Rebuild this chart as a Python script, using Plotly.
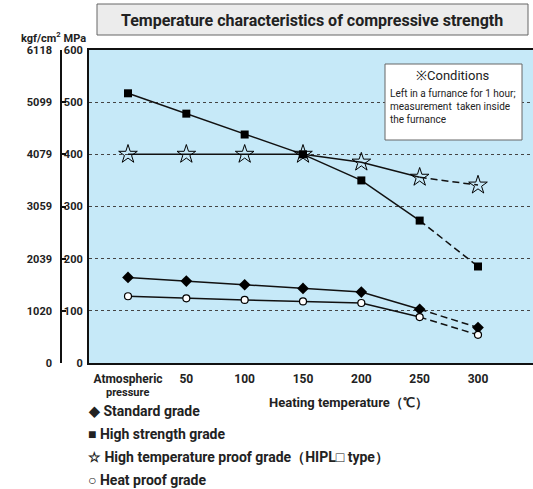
import plotly.graph_objects as go

# ---------------- data ----------------
categories = ["Atmospheric", "50", "100", "150", "200", "250", "300"]
first_category_second_line = "pressure"
standard = [164, 157, 150, 143, 136, 103, 68]
high_strength = [517, 478, 438, 400, 350, 273, 185]
high_temp = [400, 400, 400, 400, 385, 356, 341]
heat_proof = [128, 124, 121, 118, 115, 88, 54]
mpa_ticks = [0, 100, 200, 300, 400, 500, 600]
kgf_ticks = ["0", "1020", "2039", "3059", "4079", "5099", "6118"]
legend_labels = ["◆ Standard grade", "■ High strength grade",
                 "☆ High temperature proof grade（HIPL□ type）", "○ Heat proof grade"]

# ---------------- geometry helpers ----------------
W, H = 533, 489
L, R, T, B = 20, 0, 50, 126
PW, PH = W - L - R, H - T - B


def px(x):
    return (x - L) / PW


def py(y):
    return (H - B - y) / PH


FONT = "Roboto, Liberation Sans, sans-serif"
xs = list(range(len(categories)))

fig = go.Figure()

series = [
    (standard, dict(symbol="diamond", size=9, color="black")),
    (high_strength, dict(symbol="square", size=8, color="black")),
    (high_temp, dict(symbol="star-open", size=14, color="black", line=dict(width=1, color="black"))),
    (heat_proof, dict(symbol="circle", size=7, color="white", line=dict(width=1.2, color="black"))),
]

for vals, mk in series:
    fig.add_trace(go.Scatter(x=xs[:6], y=vals[:6], mode="lines",
                             line=dict(color="#111", width=1.5),
                             hoverinfo="skip", showlegend=False))
    fig.add_trace(go.Scatter(x=xs[5:], y=vals[5:], mode="lines",
                             line=dict(color="#111", width=1.5, dash="7px,4px"),
                             hoverinfo="skip", showlegend=False))
for vals, mk in series:
    fig.add_trace(go.Scatter(x=xs, y=vals, mode="markers", marker=mk,
                             hoverinfo="skip", showlegend=False))

# invisible trace to anchor the kgf/cm2 axis
fig.add_trace(go.Scatter(x=[0], y=[0], mode="markers", marker=dict(opacity=0),
                         yaxis="y2", hoverinfo="skip", showlegend=False))

x0 = 128
unit = (478 - 128) / 6
fig.update_layout(
    width=W, height=H,
    margin=dict(l=L, r=R, t=T, b=B),
    paper_bgcolor="white",
    plot_bgcolor="#c6e9f8",
    font=dict(family=FONT, color="#222"),
    xaxis=dict(
        domain=[px(89), 1],
        range=[(89 - x0) / unit, (533 - x0) / unit],
        tickvals=xs, ticktext=categories,
        tickfont=dict(size=12, family=FONT, weight="bold", color="#222"),
        ticks="", showgrid=False, zeroline=False,
        showline=True, linecolor="#111", linewidth=2, mirror=True,
        ticklabelstandoff=4,
    ),
    yaxis=dict(
        range=[0, 600],
        tickvals=mpa_ticks, ticktext=[str(v) for v in mpa_ticks],
        tickfont=dict(size=11, family=FONT, weight="bold", color="#222"),
        ticks="", showgrid=True, gridcolor="#444", gridwidth=1, griddash="3px,3px",
        zeroline=False, showline=True, linecolor="#111", linewidth=2,
        ticklabelstandoff=2,
    ),
    yaxis2=dict(
        overlaying="y", anchor="free", position=px(61), side="left",
        range=[0, 600],
        tickvals=mpa_ticks, ticktext=kgf_ticks,
        tickfont=dict(size=11, family=FONT, weight="bold", color="#222"),
        ticks="inside", ticklen=4, tickcolor="#111", tickwidth=1.5,
        showgrid=False, zeroline=False,
        showline=True, linecolor="#111", linewidth=1.5,
        ticklabelstandoff=6,
    ),
)

# title box
fig.add_shape(type="rect", xref="paper", yref="paper",
              x0=px(97), x1=px(528), y0=py(35), y1=py(4),
              fillcolor="#ececec", line=dict(color="#666", width=1), layer="above")
fig.add_annotation(xref="paper", yref="paper", x=px(312), y=py(20),
                   text="Temperature characteristics of compressive strength",
                   showarrow=False, xanchor="center", yanchor="middle",
                   font=dict(size=16, family=FONT, weight="bold", color="#222"))

# unit header
fig.add_annotation(xref="paper", yref="paper", x=px(88), y=py(38),
                   text="kgf/cm<sup>2</sup> MPa", showarrow=False,
                   xanchor="right", yanchor="middle",
                   font=dict(size=11, family=FONT, weight="bold", color="#222"))

# second line of the first category label
fig.add_annotation(xref="paper", yref="paper", x=px(127), y=py(392),
                   text=first_category_second_line, showarrow=False,
                   xanchor="center", yanchor="middle",
                   font=dict(size=11, family=FONT, weight="bold", color="#222"))

# conditions box
fig.add_shape(type="rect", xref="paper", yref="paper",
              x0=px(385), x1=px(522), y0=py(140), y1=py(64),
              fillcolor="white", line=dict(color="#666", width=1), layer="above")
fig.add_annotation(xref="paper", yref="paper", x=px(453), y=py(76),
                   text="※Conditions", showarrow=False,
                   xanchor="center", yanchor="middle",
                   font=dict(size=13, family=FONT, color="#222"))
fig.add_annotation(xref="paper", yref="paper", x=px(388), y=py(86),
                   text="Left in a furnance for 1 hour;<br>measurement  taken inside<br>the furnance",
                   showarrow=False, xanchor="left", yanchor="top", align="left",
                   font=dict(size=10, family=FONT, color="#222"))

# x axis title
fig.add_annotation(xref="paper", yref="paper", x=px(348), y=py(403),
                   text="Heating temperature（℃）", showarrow=False,
                   xanchor="center", yanchor="middle",
                   font=dict(size=13, family=FONT, weight="bold", color="#222"))

# legend
for i, lab in enumerate(legend_labels):
    fig.add_annotation(xref="paper", yref="paper", x=px(86), y=py(411 + i * 23),
                       text=lab, showarrow=False, xanchor="left", yanchor="middle",
                       font=dict(size=14, family=FONT, weight="bold", color="#222"))

fig.write_html("out.html", config={"displayModeBar": False},
               post_script="document.body.style.margin='0';")
